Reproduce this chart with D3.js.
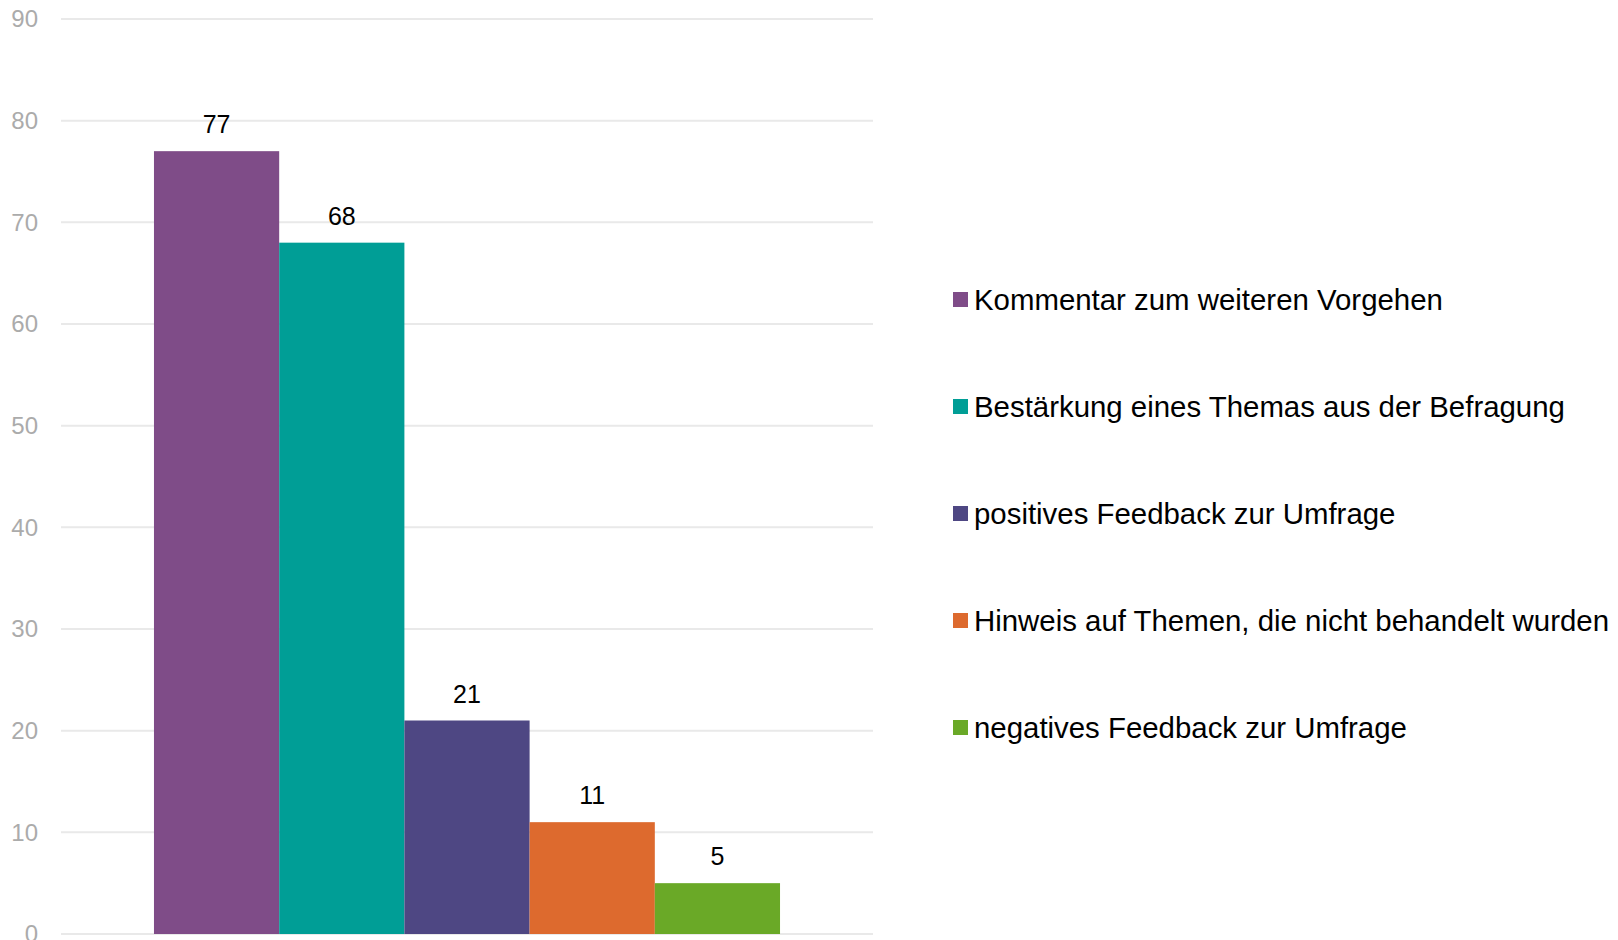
<!DOCTYPE html>
<meta charset="utf-8">
<style>
body { margin: 0; background: #fff; }
text { font-family: "Liberation Sans", Arial, sans-serif; }
.grid line { stroke: #e9e9e9; stroke-width: 2px; }
.tick-label { fill: #ababab; font-size: 24px; }
.value { fill: #000; font-size: 25px; }
.legend text { fill: #000; font-size: 29.4px; }
</style>
<svg width="1618" height="940"></svg>
<script src="https://d3js.org/d3.v7.min.js"></script>
<script>

var categories = [
  "Kommentar zum weiteren Vorgehen",
  "Bestärkung eines Themas aus der Befragung",
  "positives Feedback zur Umfrage",
  "Hinweis auf Themen, die nicht behandelt wurden",
  "negatives Feedback zur Umfrage"
];
var values = [77, 68, 21, 11, 5];
var colors = ["#7f4c88", "#009e96", "#4e4783", "#dd6a2e", "#6aa927"];
var yTicks = [0, 10, 20, 30, 40, 50, 60, 70, 80, 90];

var svg = d3.select("svg");

var plotLeft = 61, plotRight = 873,
    yTop = 19, yBottom = 934;

var y = d3.scaleLinear()
    .domain([0, 90])
    .range([yBottom, yTop]);

// the bars fill about 77% of the plot width, centred
var groupW = (plotRight - plotLeft) * 0.771,
    groupX = (plotLeft + plotRight) / 2 - groupW / 2;

var x = d3.scaleBand()
    .domain(categories)
    .range([groupX, groupX + groupW])
    .padding(0);

var grid = svg.append("g").attr("class", "grid");
grid.selectAll("line")
  .data(yTicks)
  .enter().append("line")
    .attr("x1", plotLeft)
    .attr("x2", plotRight)
    .attr("y1", function(d) { return y(d); })
    .attr("y2", function(d) { return y(d); });

svg.append("g").selectAll("text")
  .data(yTicks)
  .enter().append("text")
    .attr("class", "tick-label")
    .attr("x", 38)
    .attr("y", function(d) { return y(d); })
    .attr("dy", "0.35em")
    .attr("text-anchor", "end")
    .text(function(d) { return d; });

svg.append("g").selectAll("rect")
  .data(values)
  .enter().append("rect")
    .attr("x", function(d, i) { return x(categories[i]); })
    .attr("y", function(d) { return y(d); })
    .attr("width", x.bandwidth())
    .attr("height", function(d) { return y(0) - y(d); })
    .style("fill", function(d, i) { return colors[i]; });

svg.append("g").selectAll("text")
  .data(values)
  .enter().append("text")
    .attr("class", "value")
    .attr("x", function(d, i) { return x(categories[i]) + x.bandwidth() / 2; })
    .attr("y", function(d) { return y(d) - 18; })
    .attr("text-anchor", "middle")
    .text(function(d) { return d; });

var legend = svg.append("g").attr("class", "legend");
var row = legend.selectAll("g")
  .data(categories)
  .enter().append("g")
    .attr("transform", function(d, i) { return "translate(953," + (300 + i * 107) + ")"; });

row.append("rect")
    .attr("x", 0)
    .attr("y", -8)
    .attr("width", 15)
    .attr("height", 15)
    .style("fill", function(d, i) { return colors[i]; });

row.append("text")
    .attr("x", 21)
    .attr("y", 0)
    .attr("dy", "0.35em")
    .text(function(d) { return d; });

</script>
